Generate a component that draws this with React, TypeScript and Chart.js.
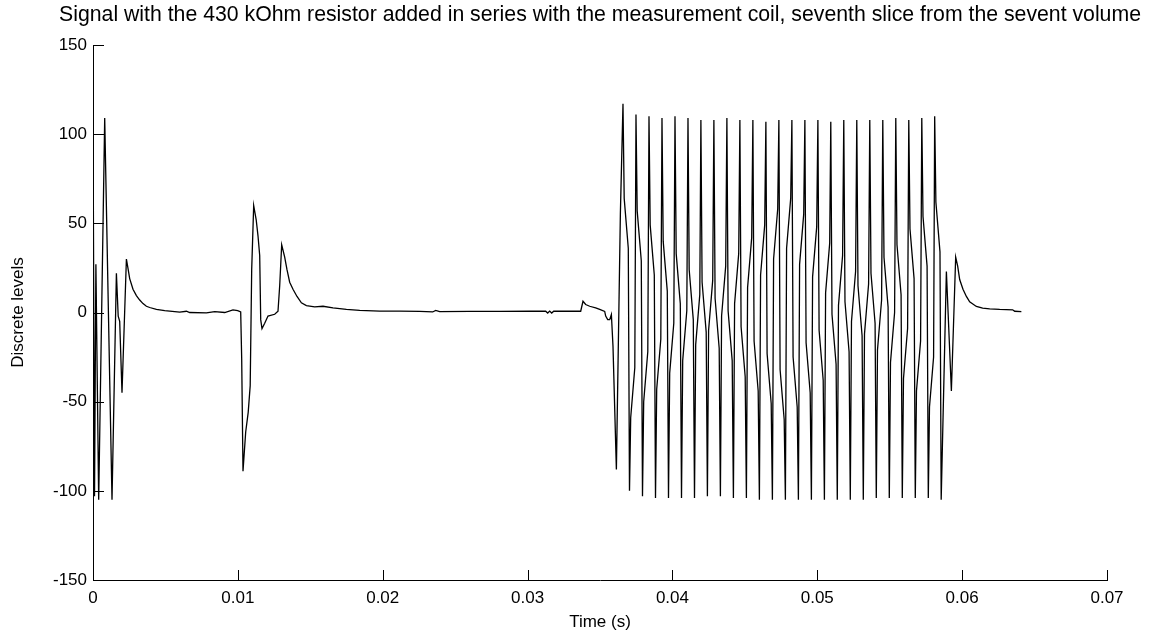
import React, { useEffect, useRef } from 'react';
import { Chart, registerables } from 'chart.js';

Chart.register(...registerables);

const TITLE =
  'Signal with the 430 kOhm resistor added in series with the measurement coil, seventh slice from the sevent volume';
const X_LABEL = 'Time (s)';
const Y_LABEL = 'Discrete levels';

const xTickValues = [0, 0.01, 0.02, 0.03, 0.04, 0.05, 0.06, 0.07];
const xTickLabels = ['0', '0.01', '0.02', '0.03', '0.04', '0.05', '0.06', '0.07'];
const yTickValues = [-150, -100, -50, 0, 50, 100, 150];
const yTickLabels = ['-150', '-100', '-50', '0', '50', '100', '150'];

// Times are in milliseconds, levels in discrete ADC units.
// Initial ringing and settling
const onsetTimeMs = [
  0.007, 0.104, 0.2, 0.393, 0.808, 1.312, 1.615, 1.74, 1.843, 2.002, 2.306, 2.43, 2.533, 2.761,
  2.996, 3.224, 3.452, 3.686, 3.914, 4.377, 4.95, 5.985, 6.448, 6.675, 7.828, 8.401, 9.091,
  9.664, 9.989, 10.196,
];
const onsetLevel = [
  97, -103, 27, -105, 109, -105, 22, -2, -5, -45, 30, 24, 19, 13, 9.5, 7, 5, 3.5, 2.8, 1.7, 1.0,
  0.2, 0.7, 0, -0.2, 0.5, 0, 1.5, 1.0, 0.3,
];

// Pulse near 0.01 s
const pulseTimeMs = [
  10.265, 10.355, 10.541, 10.714, 10.852, 10.955, 11.093, 11.266, 11.39, 11.508, 11.577, 11.666,
  11.853, 12.081, 12.543, 12.771, 12.888, 13.026, 13.233, 13.392, 13.578, 13.806, 14.083, 14.386,
  14.731, 15.304, 15.877, 16.568, 17.493,
];
const pulseLevel = [
  -26, -89, -67, -56, -41, 24, 60, 52, 43, 32, -4, -9, -6, -2, -1, 0.7, 15, 38, 31, 24, 17, 13, 9,
  5.4, 3.9, 3.2, 3.5, 2.6, 1.7,
];

// Quiet baseline and the step before the burst
const baselineTimeMs = [
  18.411, 19.792, 21.172, 22.553, 23.45, 23.657, 23.933, 26.004, 28.075, 30.146, 31.251, 31.389,
  31.527, 31.665, 31.803, 33.667, 33.826, 34.012, 34.289, 34.702, 34.979, 35.324, 35.393, 35.531,
  35.669, 35.786, 35.897, 36.131, 36.408,
];
const baselineLevel = [
  1.2, 0.8, 0.8, 0.6, 0.3, 1.2, 0.5, 0.6, 0.6, 0.7, 0.7, -0.3, 0.8, -0.3, 0.7, 0.7, 6.3, 4.5, 3.5,
  2.6, 1.7, 0.6, -2, -4, -4, -1.1, -19, -88, 56,
];

// Burst: alternating positive and negative peaks
const burstPeakTimeMs = [
  36.587, 37.036, 37.484, 37.933, 38.382, 38.831, 39.279, 39.728, 40.177, 40.626, 41.074, 41.523,
  41.965, 42.414, 42.862, 43.311, 43.76, 44.209, 44.657, 45.106, 45.554, 46.003, 46.452, 46.901,
  47.349, 47.798, 48.247, 48.696, 49.144, 49.593, 50.042, 50.491, 50.932, 51.381, 51.829, 52.278,
  52.727, 53.176, 53.624, 54.073, 54.522, 54.971, 55.419, 55.868, 56.316, 56.765, 57.214, 57.663,
  58.104, 58.553,
];
const burstPeakLevel = [
  117, -100, 111, -103, 110, -104, 109, -104, 110, -104, 109, -104, 108, -103, 108, -103, 109,
  -104, 108, -104, 108, -105, 107, -105, 108, -105, 108, -105, 108, -105, 108, -105, 107, -105,
  108, -105, 108, -105, 108, -104, 108, -104, 109, -104, 108, -104, 109, -104, 110, -105,
];

// Burst: samples where each steep edge jogs sideways (jog height drifts from cycle to cycle)
const burstJogTimeMs = [
  36.67, 36.953, 37.119, 37.402, 37.567, 37.85, 38.016, 38.299, 38.465, 38.748, 38.914, 39.197,
  39.362, 39.645, 39.811, 40.094, 40.26, 40.543, 40.709, 40.992, 41.157, 41.44, 41.606, 41.889,
  42.048, 42.331, 42.497, 42.78, 42.945, 43.228, 43.394, 43.677, 43.843, 44.126, 44.292, 44.575,
  44.74, 45.023, 45.189, 45.472, 45.637, 45.92, 46.086, 46.369, 46.535, 46.818, 46.984, 47.267,
  47.432, 47.715, 47.881, 48.164, 48.33, 48.613, 48.779, 49.062, 49.227, 49.51, 49.676, 49.959,
  50.125, 50.408, 50.574, 50.857, 51.015, 51.298, 51.464, 51.747, 51.912, 52.195, 52.361, 52.644,
  52.81, 53.093, 53.259, 53.542, 53.707, 53.99, 54.156, 54.439, 54.605, 54.888, 55.054, 55.337,
  55.502, 55.785, 55.951, 56.234, 56.399, 56.682, 56.848, 57.131, 57.297, 57.58, 57.746, 58.029,
  58.187, 58.47,
];
const burstJogLevel = [
  64, 36, -59, -31, 57, 29, -50, -22, 49, 21, -43, -15, 40, 12, -34, -6, 33, 5, -27, 1, 24, -4,
  -18, 10, 17, -11, -10, 18, 8, -20, -2, 26, 1, -27, 5, 33, -8, -36, 14, 42, -16, -44, 21, 49,
  -23, -51, 30, 58, -32, -60, 36, 64, -25, -53, 27, 55, -17, -45, 20, 48, -10, -38, 11, 39, -1,
  -29, 4, 32, 6, -22, -5, 23, 15, -13, -12, 16, 22, -6, -21, 7, 31, 3, -28, 0, 38, 10, -37, -9,
  47, 19, -44, -16, 54, 26, -53, -25, 62, 34,
];

// Tail after the burst
const tailTimeMs = [
  58.912, 59.257, 59.554, 59.692, 59.83, 60.058, 60.293, 60.519, 60.982, 61.418, 61.901, 62.591,
  63.489, 63.627, 64.089,
];
const tailLevel = [23, -44, 31, 26, 18.5, 13, 9, 6, 3.4, 2.5, 2, 1.7, 1.5, 0.7, 0.5];

const FONT_FAMILY = '"Liberation Sans", Arial, Helvetica, sans-serif';

const inwardTicks = {
  id: 'inwardTicks',
  afterDatasetsDraw(chart: any) {
    const { ctx, chartArea, scales } = chart;
    const { left, bottom } = chartArea;
    const xs = scales.x;
    const ys = scales.y;
    ctx.save();
    ctx.strokeStyle = '#000';
    ctx.lineWidth = 1;
    ctx.beginPath();
    xTickValues.forEach((v) => {
      const px = Math.round(xs.getPixelForValue(v)) + 0.5;
      ctx.moveTo(px, Math.round(bottom) + 0.5);
      ctx.lineTo(px, Math.round(bottom) - 10);
    });
    yTickValues.forEach((v) => {
      const py = Math.round(ys.getPixelForValue(v)) + 0.5;
      ctx.moveTo(Math.round(left) + 0.5, py);
      ctx.lineTo(Math.round(left) + 11, py);
    });
    ctx.stroke();
    ctx.restore();
  },
};

const topTitle = {
  id: 'topTitle',
  afterDraw(chart: any) {
    const { ctx, chartArea } = chart;
    ctx.save();
    ctx.font = `21.25px ${FONT_FAMILY}`;
    ctx.fillStyle = '#000';
    ctx.textAlign = 'center';
    ctx.textBaseline = 'alphabetic';
    ctx.fillText(TITLE, (chartArea.left + chartArea.right) / 2, 21);
    ctx.restore();
  },
};

export default function App() {
  const ref = useRef<HTMLCanvasElement>(null);

  useEffect(() => {
    document.body.style.margin = '0';
    const times = [
      ...onsetTimeMs,
      ...pulseTimeMs,
      ...baselineTimeMs,
      ...burstPeakTimeMs,
      ...burstJogTimeMs,
      ...tailTimeMs,
    ];
    const levels = [
      ...onsetLevel,
      ...pulseLevel,
      ...baselineLevel,
      ...burstPeakLevel,
      ...burstJogLevel,
      ...tailLevel,
    ];
    const points = times
      .map((t, i) => ({ x: t / 1000, y: levels[i] }))
      .sort((a, b) => a.x - b.x);

    Chart.defaults.font.family = FONT_FAMILY;
    Chart.defaults.font.size = 17;
    Chart.defaults.color = '#000';

    const chart = new Chart(ref.current as HTMLCanvasElement, {
      type: 'line',
      data: {
        datasets: [
          {
            data: points,
            borderColor: '#000',
            borderWidth: 1.3,
            pointRadius: 0,
            tension: 0,
            fill: false,
          },
        ],
      },
      options: {
        responsive: false,
        animation: false,
        events: [],
        layout: { padding: { top: 45, right: 42, bottom: 0, left: 0 } },
        plugins: {
          legend: { display: false },
          title: { display: false },
          tooltip: { enabled: false },
        },
        scales: {
          x: {
            type: 'linear',
            min: 0,
            max: 0.07,
            grid: { display: false, drawTicks: false, tickLength: 0 },
            border: { display: true, color: '#000', width: 1 },
            afterBuildTicks: (s: any) => {
              s.ticks = xTickValues.map((v) => ({ value: v }));
            },
            afterFit: (s: any) => {
              s.height = 56;
            },
            ticks: {
              autoSkip: false,
              maxRotation: 0,
              padding: 8,
              font: { size: 17 },
              color: '#000',
              callback: (_v: any, i: number) => xTickLabels[i],
            },
            title: {
              display: true,
              text: X_LABEL,
              font: { size: 17 },
              color: '#000',
              padding: { top: 0, bottom: 3 },
            },
          },
          y: {
            type: 'linear',
            min: -150,
            max: 150,
            grid: { display: false, drawTicks: false, tickLength: 0 },
            border: { display: true, color: '#000', width: 1 },
            afterBuildTicks: (s: any) => {
              s.ticks = yTickValues.map((v) => ({ value: v }));
            },
            afterFit: (s: any) => {
              s.width = 93;
            },
            ticks: {
              autoSkip: false,
              padding: 6,
              font: { size: 17 },
              color: '#000',
              callback: (_v: any, i: number) => yTickLabels[i],
            },
            title: {
              display: true,
              text: Y_LABEL,
              font: { size: 17 },
              color: '#000',
              padding: { top: 8, bottom: 0 },
            },
          },
        },
      },
      plugins: [inwardTicks, topTitle],
    });

    return () => chart.destroy();
  }, []);

  return (
    <div style={{ position: 'absolute', left: 0, top: 0, width: 1149, height: 636, background: '#fff' }}>
      <canvas ref={ref} width={1149} height={636} style={{ display: 'block' }} />
    </div>
  );
}
